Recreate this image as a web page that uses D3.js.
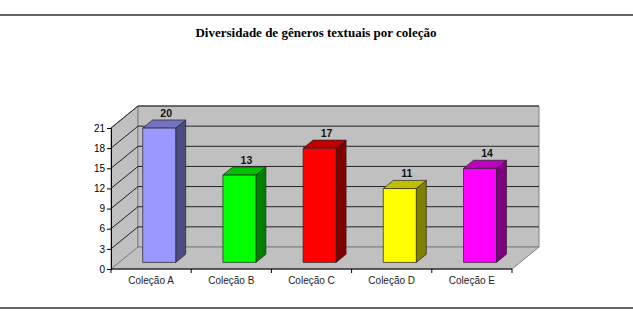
<!DOCTYPE html>
<html><head><meta charset="utf-8">
<script src="https://cdn.jsdelivr.net/npm/d3@7"></script>
<style>body{margin:0;background:#fff}svg{display:block}</style>
</head><body>
<script>
const categories = ["Coleção A","Coleção B","Coleção C","Coleção D","Coleção E"];
const values = [20, 13, 17, 11, 14];
const frontColors = ["#9999ff","#00ff00","#ff0000","#ffff00","#ff00ff"];
const sideColors = ["#4c4c80","#008000","#800000","#808000","#800080"];
const topColors = ["#7373c0","#00c000","#c00000","#c0c000","#c000c0"];
const yTicks = [0,3,6,9,12,15,18,21];
const title = "Diversidade de gêneros textuais por coleção";

const W = 633, H = 311;
const svg = d3.select("body").append("svg").attr("width", W).attr("height", H);

svg.append("line").attr("x1",0).attr("x2",W).attr("y1",15).attr("y2",15).attr("stroke","#666").attr("stroke-width",2);
svg.append("line").attr("x1",0).attr("x2",W).attr("y1",308).attr("y2",308).attr("stroke","#666").attr("stroke-width",2);

svg.append("text").attr("x",316).attr("y",37).attr("text-anchor","middle")
  .attr("font-family","'Liberation Serif','Times New Roman',serif").attr("font-weight","bold")
  .attr("font-size",13).text(title);

const x = d3.scaleBand().domain(categories).range([111,512]).padding(0);
const y = d3.scaleLinear().domain([0,21]).range([269,128]);
const DX = 27, DY = -22;
const xL = 111, xR = 512, y0 = y(0), yT = y(21);

const g = svg.append("g");
const wall = "#c0c0c0", edge = "#808080";
// left wall
g.append("polygon").attr("points",[[xL,y0],[xL,yT],[xL+DX,yT+DY],[xL+DX,y0+DY]].join(" ")).attr("fill",wall).attr("stroke",edge);
// back wall
g.append("polygon").attr("points",[[xL+DX,yT+DY],[xR+DX,yT+DY],[xR+DX,y0+DY],[xL+DX,y0+DY]].join(" ")).attr("fill",wall).attr("stroke",edge);
// floor
g.append("polygon").attr("points",[[xL,y0],[xR,y0],[xR+DX,y0+DY],[xL+DX,y0+DY]].join(" ")).attr("fill",wall).attr("stroke",edge);

// gridlines
yTicks.filter(v=>v>0).forEach(v=>{
  const yy = y(v);
  g.append("polyline").attr("points",[[xL,yy],[xL+DX,yy+DY],[xR+DX,yy+DY]].join(" "))
    .attr("fill","none").attr("stroke","#222").attr("stroke-width",1);
});

// axes
const yAxis = svg.append("g").attr("transform",`translate(${xL},0)`)
  .call(d3.axisLeft(y).tickValues(yTicks).tickSize(4).tickPadding(2));
yAxis.select(".domain").attr("stroke","#000");
yAxis.selectAll("text").attr("font-family","Arial,'Liberation Sans',sans-serif").attr("font-size",10).attr("fill","#000");

svg.append("line").attr("x1",xL).attr("x2",xR).attr("y1",y0).attr("y2",y0).attr("stroke","#000");
const bounds = categories.map(c=>x(c)).concat([xR]);
bounds.forEach(b=>{
  svg.append("line").attr("x1",b).attr("x2",b).attr("y1",y0).attr("y2",y0+4).attr("stroke","#000");
});
categories.forEach(c=>{
  svg.append("text").attr("x",x(c)+x.bandwidth()/2).attr("y",284).attr("text-anchor","middle")
    .attr("font-family","Arial,'Liberation Sans',sans-serif").attr("font-size",10).attr("fill","#222").text(c);
});

// bars
const t1 = 0.3, t2 = 0.67, bw = 33;
const ox1 = DX*t1, oy1 = DY*t1, ox2 = DX*(t2-t1), oy2 = DY*(t2-t1);
categories.forEach((c,i)=>{
  const cx = x(c)+x.bandwidth()/2 + ox1;
  const a = cx - bw/2, b = cx + bw/2;
  const base = y(0)+oy1, top = y(values[i])+oy1;
  const bar = svg.append("g").attr("stroke","#222").attr("stroke-width",0.7).attr("stroke-linejoin","round");
  bar.append("polygon").attr("points",[[b,top],[b+ox2,top+oy2],[b+ox2,base+oy2],[b,base]].join(" ")).attr("fill",sideColors[i]);
  bar.append("polygon").attr("points",[[a,top],[a+ox2,top+oy2],[b+ox2,top+oy2],[b,top]].join(" ")).attr("fill",topColors[i]);
  bar.append("rect").attr("x",a).attr("y",top).attr("width",bw).attr("height",base-top).attr("fill",frontColors[i]);
  svg.append("text").attr("x",cx+7).attr("y",top+oy2-3).attr("text-anchor","middle")
    .attr("font-family","Arial,'Liberation Sans',sans-serif").attr("font-weight","bold").attr("font-size",10.5).attr("fill","#111")
    .text(values[i]);
});
</script>
</body></html>
